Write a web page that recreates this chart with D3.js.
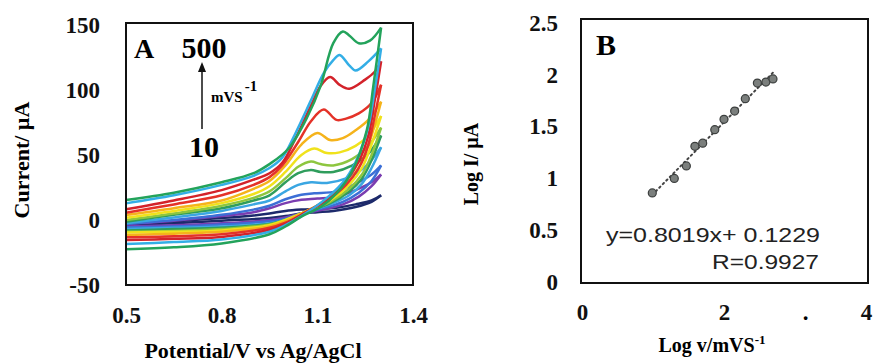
<!DOCTYPE html>
<html>
<head>
<meta charset="utf-8">
<script src="https://cdn.jsdelivr.net/npm/d3@7"></script>
<style>
  body { margin: 0; background: #fff; }
  svg text { font-family: "Liberation Serif", "Times New Roman", serif; font-weight: bold; }
</style>
</head>
<body>
<svg id="chart" width="873" height="364"></svg>
<script>
// ---- panel A: cyclic voltammograms, slowest (10 mV/s) to fastest (500 mV/s)
const cvColors = ['#1d2a6b', '#7a3db0', '#3c6fd6', '#3aa6e2', '#2f9d5c', '#8dc63f',
                  '#f0e21c', '#f5b31b', '#e43228', '#d3222a', '#33aee6', '#23a35b'];

// forward (anodic) branches, [E (V), I (uA)]
const forwardScans = [
  [[0.5,-2.5],[0.65,-1],[0.8,1.5],[0.9,3.5],[0.95,5],[1.0,7],[1.05,8],[1.1,8.5],[1.16,9.5],[1.22,12],[1.27,15],[1.3,19]],
  [[0.5,-3],[0.65,-0.5],[0.8,3],[0.9,6],[0.95,9],[1.0,13],[1.05,15.5],[1.1,16.5],[1.16,18],[1.22,23],[1.27,29],[1.3,35]],
  [[0.5,-3],[0.65,0],[0.8,4],[0.9,8],[0.95,11],[1.0,16],[1.05,19.5],[1.09,20.5],[1.16,22],[1.22,28],[1.27,35],[1.3,42]],
  [[0.5,-2.5],[0.65,2],[0.8,7],[0.9,12],[0.95,15],[1.0,22],[1.04,27],[1.08,29],[1.13,28.5],[1.19,32],[1.25,41],[1.3,56]],
  [[0.5,-1.3],[0.65,4],[0.8,9],[0.9,15],[0.95,19],[1.0,29],[1.04,36],[1.08,38.5],[1.11,37],[1.15,37],[1.21,42],[1.26,51],[1.3,65]],
  [[0.5,0],[0.65,5],[0.8,11],[0.9,17],[0.95,22],[1.0,32],[1.04,41],[1.08,45],[1.11,43],[1.15,42],[1.21,47],[1.26,57],[1.3,71]],
  [[0.5,1.8],[0.65,7],[0.8,13],[0.9,20],[0.95,26],[1.0,37],[1.05,50],[1.09,55],[1.13,51.5],[1.17,52],[1.22,57],[1.26,65],[1.3,80]],
  [[0.5,3.8],[0.65,9],[0.8,15],[0.9,24],[0.95,30],[1.0,42],[1.05,58],[1.1,67],[1.14,61.5],[1.18,63],[1.22,69],[1.26,77],[1.3,91]],
  [[0.5,5.6],[0.65,12],[0.8,19],[0.9,27],[0.95,33],[0.99,42],[1.04,60],[1.08,76],[1.12,85],[1.16,77],[1.19,78],[1.23,82],[1.27,90],[1.3,104]],
  [[0.5,8.2],[0.65,15],[0.8,23],[0.9,31],[0.95,36],[0.99,44],[1.03,62],[1.08,88],[1.11,103],[1.14,110],[1.17,104],[1.2,101],[1.25,108],[1.28,114],[1.3,122]],
  [[0.5,12.8],[0.65,19],[0.8,27],[0.9,34],[0.95,40],[0.99,48],[1.03,66],[1.08,92],[1.12,113],[1.15,123],[1.17,127],[1.2,119],[1.22,115],[1.26,122],[1.3,132]],
  [[0.5,15.4],[0.65,21],[0.8,29],[0.9,36],[0.95,43],[1.01,55],[1.07,80],[1.11,103],[1.15,136],[1.18,145],[1.2,142],[1.23,136],[1.265,138],[1.3,148]]
];

// reverse (cathodic) branches, [E (V), I (uA)]
const reverseScans = [
  [[1.3,19],[1.27,14],[1.22,10],[1.15,7],[1.1,6],[1.05,5],[1.0,3],[0.95,1.5],[0.8,-0.5],[0.65,-2.5],[0.5,-4]],
  [[1.3,35],[1.27,26],[1.23,18],[1.18,12],[1.1,7],[1.05,5],[1.0,2],[0.95,0],[0.8,-2.5],[0.65,-4],[0.5,-5]],
  [[1.3,42],[1.27,30],[1.23,21],[1.18,14],[1.1,8],[1.05,5],[1.0,1],[0.95,-1],[0.8,-3.5],[0.65,-5],[0.5,-5.5]],
  [[1.3,56],[1.27,40],[1.24,28],[1.2,19],[1.14,12],[1.05,5],[1.0,0],[0.95,-2.5],[0.8,-5],[0.65,-6],[0.5,-7]],
  [[1.3,65],[1.27,46],[1.24,32],[1.2,22],[1.14,13],[1.05,5],[1.0,0],[0.95,-3],[0.8,-6],[0.65,-7],[0.5,-8]],
  [[1.3,71],[1.27,50],[1.24,35],[1.2,24],[1.14,14],[1.05,5],[1.0,0],[0.95,-3.5],[0.8,-7],[0.65,-8.5],[0.5,-9]],
  [[1.3,80],[1.27,58],[1.24,40],[1.2,27],[1.14,15],[1.05,5],[1.0,0],[0.95,-4],[0.8,-8],[0.65,-9],[0.5,-9.7]],
  [[1.3,91],[1.27,65],[1.24,45],[1.2,30],[1.14,17],[1.05,5],[1.0,-1],[0.95,-5],[0.8,-9],[0.65,-10.5],[0.5,-11.5]],
  [[1.3,104],[1.28,80],[1.26,58],[1.23,40],[1.19,27],[1.13,15],[1.05,4],[1.0,-2],[0.95,-6],[0.8,-11],[0.65,-12.5],[0.5,-13.3]],
  [[1.3,122],[1.28,92],[1.26,65],[1.23,45],[1.19,30],[1.13,16],[1.05,4],[1.0,-3],[0.95,-7.5],[0.8,-13],[0.65,-14.5],[0.5,-15.4]],
  [[1.3,132],[1.28,100],[1.26,72],[1.23,50],[1.19,32],[1.13,17],[1.05,3],[1.0,-4],[0.95,-9],[0.8,-15],[0.65,-17],[0.5,-18.5]],
  [[1.3,148],[1.275,102],[1.255,69],[1.21,38],[1.16,20.5],[1.11,10],[1.05,2.6],[1.0,-5],[0.95,-11],[0.8,-18],[0.65,-21],[0.5,-22.5]]
];

const potentialTicks = [0.5, 0.8, 1.1, 1.4];
const currentTicks = [-50, 0, 50, 100, 150];

// ---- panel B: log peak current vs log scan rate
const logRate = [0.99, 1.30, 1.47, 1.59, 1.70, 1.87, 2.00, 2.15, 2.30, 2.47, 2.59, 2.69];
const logCurrent = [0.86, 1.00, 1.12, 1.31, 1.34, 1.47, 1.57, 1.65, 1.77, 1.92, 1.93, 1.96];
const logRateTicks = [0, 2, 4];
const logCurrentTicks = [0, 0.5, 1, 1.5, 2, 2.5];

const svg = d3.select('#chart');
svg.append('rect').attr('width', 873).attr('height', 364).attr('fill', '#fff');

function styleTicks(sel) {
  sel.select('.domain').remove();
  sel.selectAll('text')
    .style('font-size', '23px')
    .style('font-family', '"Liberation Serif", serif')
    .style('font-weight', 'bold')
    .attr('fill', '#111');
}

// ================= panel A =================
const xA = d3.scaleLinear().domain([0.5, 1.4]).range([126, 413]);
const yA = d3.scaleLinear().domain([-50, 150]).range([285, 25]);

const lineA = d3.line()
  .x(d => xA(d[0]))
  .y(d => yA(d[1]))
  .curve(d3.curveCatmullRom.alpha(0.5));

const cvGroup = svg.append('g');
forwardScans.forEach((scan, i) => {
  cvGroup.append('path')
    .attr('d', lineA(reverseScans[i]))
    .attr('fill', 'none')
    .attr('stroke', cvColors[i])
    .attr('stroke-width', 2.5);
  cvGroup.append('path')
    .attr('d', lineA(scan))
    .attr('fill', 'none')
    .attr('stroke', cvColors[i])
    .attr('stroke-width', 2.5);
});

svg.append('rect')
  .attr('x', 126).attr('y', 23).attr('width', 287).attr('height', 262)
  .attr('fill', 'none').attr('stroke', '#111').attr('stroke-width', 2);

svg.append('g')
  .attr('transform', 'translate(126,0)')
  .call(d3.axisLeft(yA).tickValues(currentTicks).tickFormat(String).tickSize(0).tickPadding(26))
  .call(styleTicks);

svg.append('g')
  .attr('transform', 'translate(0,285)')
  .call(d3.axisBottom(xA).tickValues(potentialTicks).tickFormat(d3.format('.1f')).tickSize(0).tickPadding(22))
  .call(styleTicks);

svg.append('text')
  .attr('x', 253).attr('y', 358)
  .attr('text-anchor', 'middle')
  .style('font-size', '22px')
  .text('Potential/V vs Ag/AgCl');

svg.append('text')
  .attr('transform', 'translate(29,160) rotate(-90)')
  .attr('text-anchor', 'middle')
  .style('font-size', '22px')
  .text('Current/ µA');

// panel A annotations
svg.append('text').attr('x', 134).attr('y', 58).style('font-size', '28px').text('A');
svg.append('text').attr('x', 204).attr('y', 58).attr('text-anchor', 'middle')
  .style('font-size', '30px').text('500');
svg.append('text').attr('x', 204).attr('y', 157).attr('text-anchor', 'middle')
  .style('font-size', '30px').text('10');

svg.append('line')
  .attr('x1', 202).attr('y1', 129).attr('x2', 202).attr('y2', 70)
  .attr('stroke', '#111').attr('stroke-width', 1.5);
svg.append('path')
  .attr('d', 'M202,62 L198,72 L206,72 Z')
  .attr('fill', '#111');

const unit = svg.append('text').attr('x', 211).attr('y', 102).style('font-size', '15px');
unit.append('tspan').text('mVS');
unit.append('tspan').attr('dy', -11).attr('dx', 2).style('font-size', '15px').text('-1');

// ================= panel B =================
const xB = d3.scaleLinear().domain([0, 4]).range([582, 866]);
const yB = d3.scaleLinear().domain([0, 2.5]).range([282, 23]);

svg.append('rect')
  .attr('x', 581).attr('y', 19).attr('width', 287).attr('height', 264)
  .attr('fill', 'none').attr('stroke', '#111').attr('stroke-width', 2);

// least squares trend line through the points
const mx = d3.mean(logRate), my = d3.mean(logCurrent);
const slope = d3.sum(logRate, (v, i) => (v - mx) * (logCurrent[i] - my)) /
              d3.sum(logRate, v => (v - mx) * (v - mx));
const icpt = my - slope * mx;
const xs = d3.extent(logRate);

svg.append('line')
  .attr('x1', xB(xs[0])).attr('y1', yB(slope * xs[0] + icpt))
  .attr('x2', xB(xs[1])).attr('y2', yB(slope * xs[1] + icpt))
  .attr('stroke', '#444').attr('stroke-width', 2)
  .attr('stroke-dasharray', '1.5,3.5').attr('stroke-linecap', 'round');

svg.append('g').selectAll('circle')
  .data(logRate)
  .enter()
  .append('circle')
  .attr('cx', d => xB(d))
  .attr('cy', (d, i) => yB(logCurrent[i]))
  .attr('r', 4)
  .attr('fill', '#7b7f7d')
  .attr('stroke', '#3c3f3e')
  .attr('stroke-width', 1.2);

svg.append('g')
  .attr('transform', 'translate(581,0)')
  .call(d3.axisLeft(yB).tickValues(logCurrentTicks).tickFormat(String).tickSize(0).tickPadding(23))
  .call(styleTicks);

svg.append('g')
  .attr('transform', 'translate(0,283)')
  .call(d3.axisBottom(xB).tickValues(logRateTicks).tickFormat(String).tickSize(0).tickPadding(21))
  .call(styleTicks);

// stray mark on the x axis
svg.append('text').attr('x', xB(3.15)).attr('y', 320).attr('text-anchor', 'middle')
  .style('font-size', '23px').text('.');

svg.append('text')
  .attr('x', 712).attr('y', 352)
  .attr('text-anchor', 'middle')
  .style('font-size', '20px')
  .text('Log v/mVS')
  .append('tspan').attr('dy', -8).style('font-size', '13px').text('-1');

svg.append('text')
  .attr('transform', 'translate(478,164) rotate(-90)')
  .attr('text-anchor', 'middle')
  .style('font-size', '20px')
  .text('Log I/ µA');

svg.append('text').attr('x', 596).attr('y', 55).style('font-size', '30px').text('B');

svg.append('text')
  .attr('x', 606).attr('y', 242)
  .attr('textLength', 214).attr('lengthAdjust', 'spacingAndGlyphs')
  .style('font-family', '"Liberation Sans", Arial, sans-serif')
  .style('font-weight', 'normal')
  .style('font-size', '21px')
  .attr('fill', '#222')
  .text('y=0.8019x+ 0.1229');

svg.append('text')
  .attr('x', 712).attr('y', 269)
  .attr('textLength', 107).attr('lengthAdjust', 'spacingAndGlyphs')
  .style('font-family', '"Liberation Sans", Arial, sans-serif')
  .style('font-weight', 'normal')
  .style('font-size', '21px')
  .attr('fill', '#222')
  .text('R=0.9927');
</script>
</body>
</html>
